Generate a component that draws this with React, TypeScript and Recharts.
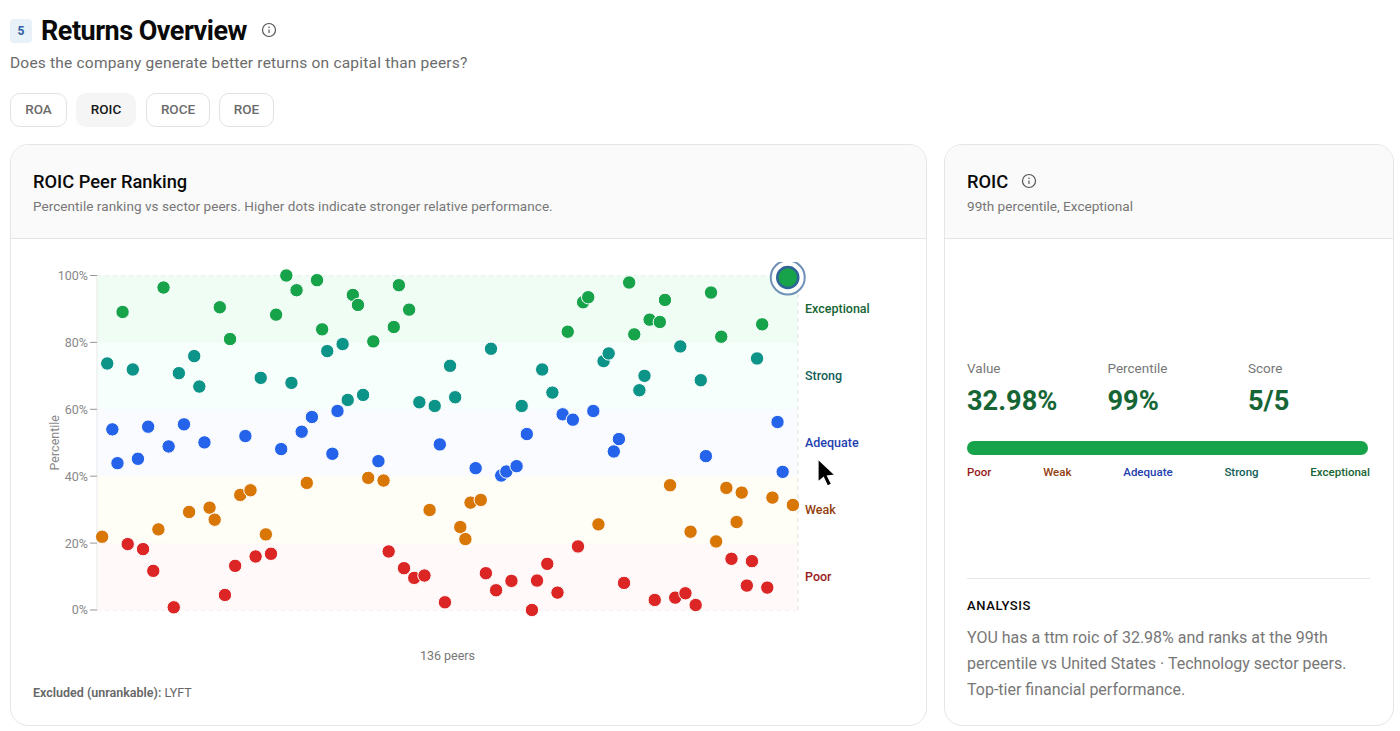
import { ScatterChart, Scatter, XAxis, YAxis, CartesianGrid, ReferenceArea, ReferenceLine } from 'recharts';

// percentile of each peer, left to right (rank 1..136)
const peerPercentiles = [
  21.9, 73.7, 54.0, 43.9, 89.1, 19.7, 71.9, 45.2, 18.2, 54.8, 11.7, 24.1, 96.4, 48.9, 0.8, 70.8, 55.5,
  29.3, 75.9, 66.8, 50.1, 30.6, 27.0, 90.5, 4.5, 81.0, 13.2, 34.4, 52.0, 35.8, 16.0, 69.4, 22.6, 16.8,
  88.3, 48.1, 100, 67.9, 95.6, 53.3, 38.0, 57.7, 98.6, 83.9, 77.4, 46.7, 59.5, 79.5, 62.8, 94.2, 91.2,
  64.3, 39.5, 80.3, 44.5, 38.7, 17.5, 84.6, 97.1, 12.5, 89.8, 9.6, 62.1, 10.3, 29.9, 61.0, 49.5, 2.3,
  73.0, 63.6, 24.8, 21.2, 32.1, 42.4, 32.9, 11.0, 78.1, 5.9, 40.2, 41.4, 8.7, 43.0, 61.0, 52.6, 0.0,
  8.8, 71.9, 13.8, 65.0, 5.2, 58.5, 83.2, 56.9, 19.0, 92.0, 93.5, 59.5, 25.6, 74.4, 76.7, 47.4, 51.1,
  8.1, 97.9, 82.4, 65.7, 70.0, 86.8, 3.0, 86.1, 92.7, 37.3, 3.7, 78.8, 5.0, 23.4, 1.5, 68.7, 46.0, 94.9,
  20.5, 81.7, 36.5, 15.3, 26.3, 35.1, 7.3, 14.6, 75.2, 85.4, 6.7, 33.6, 56.2, 41.3, 99.4, 31.4,
];
const youRank = 135;
const yTicks = [0, 20, 40, 60, 80, 100];

const tierNames = ['Poor', 'Weak', 'Adequate', 'Strong', 'Exceptional'];
const tierFloors = [0, 20, 40, 60, 80];
const tierDots = ['#dc2626', '#d97706', '#2563eb', '#0d9488', '#16a34a'];
const tierBands = ['#fff9f9', '#fffef6', '#f9fbff', '#f7fffd', '#effdf5'];
const tierText = ['#991b1b', '#92400e', '#1e40af', '#115e59', '#166534'];

const metricTabs = ['ROA', 'ROIC', 'ROCE', 'ROE'];
const tabBoxes = [[10, 57], [76, 60], [146, 64], [219, 55]];

const chartData = peerPercentiles.map((percentile, i) => ({ rank: i + 1, percentile }));

function tierOf(p: number) {
  let t = 0;
  tierFloors.forEach((f, i) => {
    if (p >= f) t = i;
  });
  return t;
}

function PeerDot(props: any) {
  const { cx, cy, payload } = props;
  const color = tierDots[tierOf(payload.percentile)];
  if (payload.rank === youRank) {
    return (
      <g>
        <circle cx={cx} cy={cy} r={17} fill="#fff" fillOpacity={0.6} stroke="#6f90b8" strokeWidth={2} />
        <circle cx={cx} cy={cy} r={10.5} fill={color} stroke="#2f6496" strokeWidth={2.5} />
      </g>
    );
  }
  return <circle cx={cx} cy={cy} r={6.7} fill={color} stroke="#fff" strokeWidth={1} />;
}

function Text({ x, y, size, color, weight, children, extra }: any) {
  // y is the vertical centre of the line
  return (
    <div
      style={{
        position: 'absolute',
        left: x,
        top: y - 20,
        height: 40,
        lineHeight: '40px',
        fontSize: size,
        color,
        fontWeight: weight || 400,
        whiteSpace: 'nowrap',
        ...extra,
      }}
    >
      {children}
    </div>
  );
}

function InfoIcon({ x, y }: any) {
  return (
    <svg style={{ position: 'absolute', left: x - 8, top: y - 8 }} width={16} height={16}>
      <circle cx={8} cy={8} r={6.5} fill="none" stroke="#555" strokeWidth={1.2} />
      <line x1={8} y1={7.5} x2={8} y2={11} stroke="#555" strokeWidth={1.2} />
      <circle cx={8} cy={5.2} r={0.8} fill="#555" />
    </svg>
  );
}

function Card({ x, w }: any) {
  return (
    <div
      style={{
        position: 'absolute',
        left: x,
        top: 144,
        width: w,
        height: 582,
        boxSizing: 'border-box',
        border: '1px solid #e5e5e5',
        borderRadius: 18,
        overflow: 'hidden',
        background: '#fff',
      }}
    >
      <div style={{ height: 93, background: '#fafafa', borderBottom: '1px solid #e5e5e5' }} />
    </div>
  );
}

export default function App() {
  return (
    <div
      style={{
        position: 'absolute',
        left: 0,
        top: 0,
        width: 1400,
        height: 731,
        overflow: 'hidden',
        background: '#fff',
        fontFamily: 'Roboto, sans-serif',
      }}
    >
      <div
        style={{
          position: 'absolute',
          left: 10,
          top: 19,
          width: 22,
          height: 24,
          borderRadius: 4,
          background: '#e8f0f8',
          color: '#2f5f9e',
          fontSize: 12,
          fontWeight: 700,
          textAlign: 'center',
          lineHeight: '24px',
        }}
      >
        5
      </div>
      <Text x={41} y={30.5} size={27} color="#0a0a0a" weight={700} extra={{ letterSpacing: -0.5 }}>
        Returns Overview
      </Text>
      <InfoIcon x={269} y={30} />
      <Text x={10} y={63} size={15.5} color="#6b6b6b" extra={{ letterSpacing: 0.2 }}>
        Does the company generate better returns on capital than peers?
      </Text>

      {metricTabs.map((tab, i) => (
        <div
          key={tab}
          style={{
            position: 'absolute',
            left: tabBoxes[i][0],
            top: 93,
            width: tabBoxes[i][1],
            height: 34,
            boxSizing: 'border-box',
            border: tab === 'ROIC' ? 'none' : '1px solid #e2e2e2',
            background: tab === 'ROIC' ? '#f5f5f5' : '#fff',
            borderRadius: 10,
            textAlign: 'center',
            lineHeight: tab === 'ROIC' ? '32px' : '30px',
            fontSize: 13.5,
            fontWeight: 500,
            color: tab === 'ROIC' ? '#171717' : '#6b6b6b',
          }}
        >
          {tab}
        </div>
      ))}

      <Card x={10} w={917} />
      <Card x={944} w={450} />

      <Text x={33} y={181.5} size={18.3} color="#0a0a0a" weight={500}>
        ROIC Peer Ranking
      </Text>
      <Text x={33} y={206} size={13.5} color="#777" extra={{ letterSpacing: 0.06 }}>
        Percentile ranking vs sector peers. Higher dots indicate stronger relative performance.
      </Text>

      <div style={{ position: 'absolute', left: 10, top: 262, width: 900, height: 408, overflow: 'hidden' }}>
        <ScatterChart width={900} height={408} margin={{ top: 13.5, right: 112, bottom: 0, left: 0 }}>
          {tierNames.map((name, i) => (
            <ReferenceArea
              key={name}
              y1={tierFloors[i]}
              y2={tierFloors[i] + 20}
              fill={tierBands[i]}
              fillOpacity={1}
              stroke="none"
              label={{
                value: name,
                position: 'right',
                offset: 7,
                fill: tierText[i],
                fontSize: 12.5,
                fontWeight: 500,
              }}
            />
          ))}
          <CartesianGrid vertical={false} stroke="#e6e6e6" strokeDasharray="4 4" />
          <ReferenceLine x={137} stroke="#e0e0e0" strokeDasharray="4 4" />
          <XAxis
            type="number"
            dataKey="rank"
            domain={[0, 137]}
            height={60}
            tick={false}
            tickLine={false}
            axisLine={false}
            label={{ value: '136 peers', position: 'insideBottom', offset: 10, fill: '#777', fontSize: 12.5 }}
          />
          <YAxis
            type="number"
            dataKey="percentile"
            domain={[0, 100]}
            ticks={yTicks}
            width={87}
            tickFormatter={(v: number) => `${v}%`}
            tick={{ fill: '#888', fontSize: 12.5 }}
            tickSize={7}
            tickMargin={2}
            axisLine={{ stroke: '#e8e8e8' }}
            tickLine={{ stroke: '#999' }}
            label={{
              value: 'Percentile',
              angle: -90,
              position: 'insideLeft',
              offset: 45,
              textAnchor: 'middle',
              fill: '#888',
              fontSize: 12.5,
            }}
          />
          <Scatter data={chartData} shape={PeerDot} isAnimationActive={false} />
        </ScatterChart>
      </div>

      <Text x={33} y={693} size={12.5} color="#666">
        <span style={{ fontWeight: 600 }}>Excluded (unrankable):</span> LYFT
      </Text>

      <svg style={{ position: 'absolute', left: 815, top: 456 }} width={24} height={34}>
        <path
          d="M3 3 L3 26 L8.5 21.5 L12.5 30 L16.5 28 L12.5 20 L20 19 Z"
          fill="#000"
          stroke="#fff"
          strokeWidth={1.2}
        />
      </svg>

      <Text x={967} y={181.5} size={18.3} color="#0a0a0a" weight={500}>
        ROIC
      </Text>
      <InfoIcon x={1028.5} y={181} />
      <Text x={967} y={206} size={13.6} color="#777">
        99th percentile, Exceptional
      </Text>

      <Text x={967} y={368} size={13.5} color="#777">Value</Text>
      <Text x={1107.5} y={368} size={13.5} color="#777">Percentile</Text>
      <Text x={1248} y={368} size={13.5} color="#777">Score</Text>
      <Text x={967} y={400.5} size={27.2} color="#166534" weight={700}>32.98%</Text>
      <Text x={1107.5} y={400.5} size={27.2} color="#166534" weight={700}>99%</Text>
      <Text x={1248} y={400.5} size={27.2} color="#166534" weight={700}>5/5</Text>

      <div
        style={{ position: 'absolute', left: 967, top: 441, width: 401, height: 14, borderRadius: 7, background: '#16a34a' }}
      />
      <div
        style={{
          position: 'absolute',
          left: 967,
          top: 462,
          width: 403,
          display: 'flex',
          justifyContent: 'space-between',
          fontSize: 11.5,
          fontWeight: 500,
          lineHeight: '20px',
        }}
      >
        {tierNames.map((name, i) => (
          <span key={name} style={{ color: tierText[i] }}>
            {name}
          </span>
        ))}
      </div>

      <div style={{ position: 'absolute', left: 967, top: 578, width: 403, height: 1, background: '#e5e5e5' }} />
      <Text x={967} y={606} size={13} color="#0a0a0a" weight={500} extra={{ letterSpacing: 0.6 }}>
        ANALYSIS
      </Text>
      <Text x={967} y={637.5} size={16} color="#777">YOU has a ttm roic of 32.98% and ranks at the 99th</Text>
      <Text x={967} y={663.5} size={16} color="#777">percentile vs United States · Technology sector peers.</Text>
      <Text x={967} y={689.5} size={16} color="#777">Top-tier financial performance.</Text>
    </div>
  );
}
